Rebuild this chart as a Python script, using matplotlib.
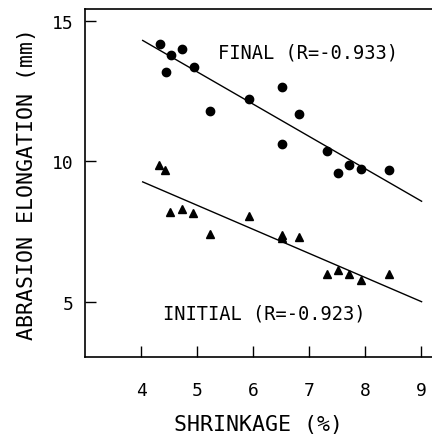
import matplotlib
matplotlib.use("Agg")
import matplotlib.pyplot as plt

# Final elongation (circles)
final_x = [4.34, 4.54, 4.74, 4.44, 4.94, 5.23, 5.93, 6.52, 6.82, 6.52, 7.32, 7.51, 7.72, 7.93, 8.42]
final_y = [14.18, 13.79, 13.99, 13.20, 13.37, 11.79, 12.24, 12.65, 11.68, 10.63, 10.36, 9.57, 9.86, 9.73, 9.69]

# Initial elongation (triangles)
initial_x = [4.33, 4.43, 4.52, 4.73, 4.93, 5.23, 5.92, 6.52, 6.52, 6.82, 7.32, 7.51, 7.72, 7.92, 8.42]
initial_y = [9.87, 9.69, 8.21, 8.29, 8.17, 7.43, 8.07, 7.38, 7.26, 7.29, 6.00, 6.14, 6.00, 5.76, 6.00]

# Regression line end points
fit_x = [4.03, 9.01]
final_fit = [14.31, 8.58]
initial_fit = [9.27, 5.00]

x_ticks = [4, 5, 6, 7, 8, 9]
y_ticks = [5, 10, 15]

font = "DejaVu Sans Mono"

fig = plt.figure(figsize=(4.32, 4.35), dpi=100)
ax = fig.add_axes([85 / 432, 1 - 358 / 435, 1 - 85 / 432, 348 / 435])

ax.plot(fit_x, final_fit, color="black", lw=1.0)
ax.plot(fit_x, initial_fit, color="black", lw=1.0)
ax.plot(final_x, final_y, "o", color="black", ms=6, ls="none")
ax.plot(initial_x, initial_y, "^", color="black", ms=5.5, ls="none")

ax.set_xlim(3, 9.196)
ax.set_ylim(3.03, 15.43)
ax.set_xticks(x_ticks)
ax.set_yticks(y_ticks)
ax.tick_params(direction="in", length=8, width=1.0, labelsize=13)
ax.tick_params(axis="x", pad=17)
ax.tick_params(axis="y", pad=8)
for lab in ax.get_xticklabels() + ax.get_yticklabels():
    lab.set_family(font)

ax.spines["right"].set_visible(False)
for s in ["left", "top", "bottom"]:
    ax.spines[s].set_linewidth(1.2)

ax.text(5.37, 13.88, "FINAL (R=-0.933)", family=font, fontsize=13.5, va="center", ha="left")
ax.text(4.40, 4.60, "INITIAL (R=-0.923)", family=font, fontsize=13.5, va="center", ha="left")

ax.set_xlabel("SHRINKAGE (%)", family=font, fontsize=15.5, labelpad=11)
ax.set_ylabel("ABRASION ELONGATION (mm)", family=font, fontsize=15.5, labelpad=11)

fig.savefig("out.png", dpi=100)
